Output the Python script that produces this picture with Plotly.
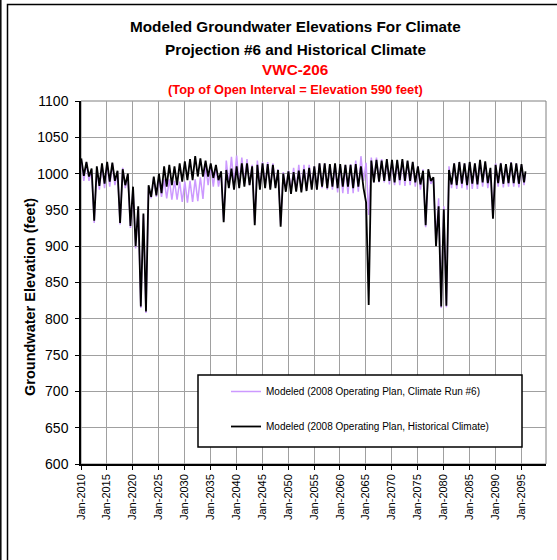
import plotly.graph_objects as go

# one high (winter) and one low (summer) reading per year, 2010-2095
years = list(range(2010, 2096))

hist_high = [1021, 1016, 1007, 1010, 1014, 1016, 1015, 1004, 1006, 1000,
             982, 955, 945, 984, 996, 1000, 1010, 1012, 1010, 1014,
             1017, 1020, 1024, 1021, 1018, 1014, 1012, 1003, 1005, 1007,
             1010, 1014, 1014, 1010, 1012, 1014, 1013, 1012, 1005, 1000,
             1003, 1002, 1004, 1006, 1008, 1010, 1014, 1014, 1013, 1014,
             1013, 1012, 1012, 1013, 1010, 960, 1018, 1019, 1018, 1020,
             1019, 1019, 1020, 1018, 1016, 1010, 1004, 1006, 995, 955,
             951, 1005, 1014, 1016, 1014, 1016, 1014, 1019, 1017, 1008,
             1012, 1014, 1013, 1015, 1014, 1013]
hist_low = [997, 996, 935, 983, 986, 989, 990, 932, 984, 928,
            900, 817, 810, 968, 970, 973, 982, 984, 984, 989,
            991, 991, 996, 996, 996, 994, 991, 933, 980, 978,
            980, 982, 984, 929, 978, 980, 978, 980, 927, 975,
            972, 975, 974, 976, 978, 978, 982, 980, 982, 980,
            982, 982, 980, 982, 980, 819, 988, 989, 990, 990,
            988, 991, 990, 990, 988, 985, 929, 990, 900, 817,
            818, 985, 984, 986, 984, 986, 985, 988, 987, 938,
            987, 986, 987, 987, 986, 988]
run6_high = [1020, 1015, 1005, 1008, 1013, 1014, 1014, 1003, 1008, 998,
             980, 953, 943, 982, 995, 995, 992, 992, 990, 989,
             989, 990, 992, 995, 1012, 1012, 1010, 1003, 1018, 1023,
             1025, 1022, 1020, 1012, 1018, 1016, 1016, 1014, 1006, 1002,
             1004, 1008, 1012, 1012, 1012, 1010, 1014, 1014, 1012, 1013,
             1012, 1012, 1013, 1018, 1024, 1015, 1022, 1022, 1020, 1018,
             1017, 1018, 1018, 1017, 1016, 1010, 1006, 1004, 992, 966,
             955, 1010, 1014, 1016, 1014, 1016, 1014, 1018, 1016, 1006,
             1014, 1015, 1013, 1016, 1014, 1012]
run6_low = [990, 990, 932, 978, 980, 982, 984, 930, 980, 925,
            897, 815, 808, 966, 968, 968, 966, 964, 964, 961,
            960, 961, 962, 965, 984, 982, 982, 935, 985, 985,
            984, 986, 984, 932, 980, 982, 980, 982, 930, 978,
            975, 976, 976, 978, 980, 978, 980, 978, 978, 974,
            973, 972, 973, 975, 990, 943, 988, 988, 988, 985,
            984, 984, 983, 984, 982, 978, 926, 986, 905, 815,
            816, 980, 979, 980, 978, 979, 979, 982, 980, 940,
            982, 981, 982, 982, 981, 984]
end_date = "2095-11-01"
hist_end = 1003
run6_end = 1000

tick_years = list(range(2010, 2096, 5))
tick_text = ["Jan-%d" % y for y in tick_years]

FONT = "Liberation Sans, Arial, sans-serif"


def series(highs, lows, last):
    xs, ys = [], []
    for y, hi, lo in zip(years, highs, lows):
        xs += ["%d-01-20" % y, "%d-07-20" % y]
        ys += [hi, lo]
    xs.append(end_date)
    ys.append(last)
    return xs, ys


fig = go.Figure()

x6, y6 = series(run6_high, run6_low, run6_end)
fig.add_trace(go.Scatter(
    x=x6, y=y6, mode="lines", legendgroup="a",
    name="Modeled (2008 Operating Plan, Climate Run #6)",
    line=dict(color="#CC99FF", width=1.5)))

xh, yh = series(hist_high, hist_low, hist_end)
fig.add_trace(go.Scatter(
    x=xh, y=yh, mode="lines", legendgroup="b",
    name="Modeled (2008 Operating Plan, Historical Climate)",
    line=dict(color="#000000", width=1.8)))


# pixel -> paper helpers (plot area 81..546 x 101..464)
def px(x):
    return (x - 81) / 465.0


def py(y):
    return (464 - y) / 363.0


titles = [
    ("Modeled Groundwater Elevations For Climate", 27, 15.3, "black"),
    ("Projection #6 and Historical Climate", 49, 15.3, "black"),
    ("VWC-206", 70, 15.3, "#FF0000"),
    ("(Top of Open Interval = Elevation 590 feet)", 89, 12.8, "#FF0000"),
]
for txt, yy, sz, col in titles:
    fig.add_annotation(text="<b>%s</b>" % txt, xref="paper", yref="paper",
                       x=px(295), y=py(yy), showarrow=False,
                       xanchor="center", yanchor="middle",
                       font=dict(family=FONT, size=sz, color=col))

fig.add_annotation(text="<b>Groundwater Elevation (feet)</b>", xref="paper", yref="paper",
                   x=px(30), y=py(297), showarrow=False, textangle=-90,
                   xanchor="center", yanchor="middle",
                   font=dict(family=FONT, size=14.5, color="black"))

# outer chart border (top/left visible), far-left edge line, plot border, legend box
fig.add_shape(type="rect", xref="paper", yref="paper",
              x0=px(7.5), x1=px(570), y0=py(575), y1=py(4.5),
              line=dict(color="black", width=1.5), layer="below")
fig.add_shape(type="line", xref="paper", yref="paper",
              x0=px(0.8), x1=px(0.8), y0=py(575), y1=py(-5),
              line=dict(color="black", width=1.5), layer="below")
fig.add_shape(type="rect", xref="paper", yref="paper",
              x0=0, x1=1, y0=0, y1=1,
              line=dict(color="#808080", width=1), layer="below")
fig.add_shape(type="rect", xref="paper", yref="paper",
              x0=px(198), x1=px(522), y0=py(447), y1=py(375),
              line=dict(color="black", width=1.5), fillcolor="white", layer="above")

fig.update_layout(
    width=557, height=560,
    margin=dict(l=81, r=11, t=101, b=96),
    paper_bgcolor="white", plot_bgcolor="white",
    font=dict(family=FONT, color="black"),
    showlegend=True,
    legend=dict(x=px(226), y=py(377), xanchor="left", yanchor="top",
                bgcolor="rgba(0,0,0,0)", borderwidth=0,
                traceorder="grouped", tracegroupgap=16, itemwidth=30,
                font=dict(family=FONT, size=10, color="black")),
    xaxis=dict(type="date", range=["2010-01-01", "2099-10-15"],
               tickvals=["%d-01-01" % y for y in tick_years], ticktext=tick_text,
               tickangle=-90, tickfont=dict(size=11),
               ticks="outside", ticklen=4, tickcolor="black",
               showgrid=True, gridcolor="#A0A0A0", gridwidth=1,
               showline=True, linecolor="black", linewidth=1.5,
               zeroline=False),
    yaxis=dict(range=[600, 1100], dtick=50, tickfont=dict(size=14),
               ticks="outside", ticklen=4, tickcolor="black", ticklabelstandoff=4,
               showgrid=True, gridcolor="#A0A0A0", gridwidth=1,
               showline=True, linecolor="black", linewidth=1.5,
               zeroline=False),
)

# page body margin would shift the chart 8px; remove it
fig.write_html("out.html", config={"displayModeBar": False},
               post_script="document.body.style.margin='0px';")
